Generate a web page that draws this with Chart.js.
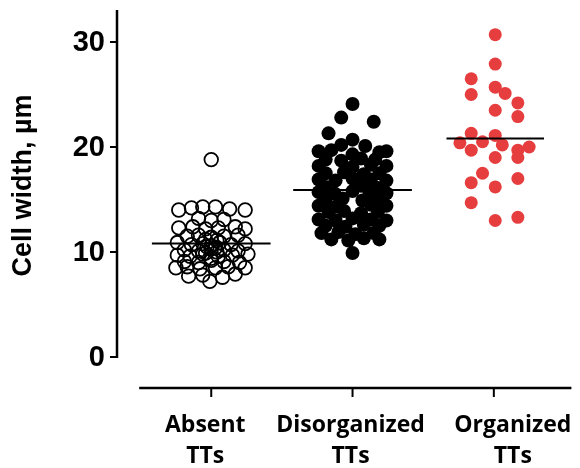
<!DOCTYPE html>
<html lang="en">
<head>
  <meta charset="UTF-8" />
  <title>Cell width</title>
  <script src="https://cdn.jsdelivr.net/npm/chart.js"></script>
  <style>
    html, body {
      margin: 0;
      padding: 0;
      background: #fff;
    }
    #chart {
      display: block;
    }
  </style>
</head>
<body>
  <canvas id="chart" width="580" height="468"></canvas>

  <script>
    // data
    const categories = [['Absent', 'TTs'], ['Disorganized', 'TTs'], ['Organized', 'TTs']];
    const yTicks = [0, 10, 20, 30];
    const yTitle = 'Cell width, µm';
    const means = [10.8, 15.9, 20.8];

    // horizontal spread of each dot from its group centre (category units), as seen in the plot
    const absentValues = [
      14.0, 14.2, 14.3, 14.3, 14.1, 14.0,
      13.2, 13.0, 13.1,
      12.3, 12.4, 12.2, 12.3, 12.4, 12.2,
      11.5, 11.6, 11.4, 11.5, 11.6, 11.2, 11.1,
      10.9, 10.7, 10.8, 10.6, 10.9, 10.7, 10.8, 10.5, 10.4,
      10.2, 10.1, 10.3, 10.2, 10.1, 9.9, 10.0,
      9.7, 9.6, 9.8, 9.6, 9.7, 9.8, 9.4,
      9.1, 9.0, 9.2, 9.1, 9.0,
      8.5, 8.6, 8.4, 8.5, 8.6, 8.5,
      7.7, 7.8, 7.6, 7.9,
      7.2, 18.8
    ];
    const absentSpread = [
      -0.23, -0.14, -0.06, 0.03, 0.13, 0.24,
      -0.09, 0, 0.09,
      -0.23, -0.13, -0.04, 0.05, 0.17, 0.24,
      -0.17, -0.09, 0, 0.09, 0.19, -0.04, 0.04,
      -0.24, -0.14, -0.06, 0, 0.06, 0.14, 0.24, -0.03, 0.03,
      -0.19, -0.09, 0, 0.09, 0.19, -0.04, 0.04,
      -0.24, -0.15, -0.06, 0.05, 0.15, 0.26, 0,
      -0.19, -0.09, 0, 0.09, 0.2,
      -0.25, -0.17, -0.08, 0.03, 0.12, 0.24,
      -0.16, -0.06, 0.08, 0.17,
      -0.01, 0
    ];

    const disorgValues = [
      24.1, 22.8, 22.4, 21.3, 20.7, 20.2, 20.1,
      19.6, 19.7, 19.5, 19.6, 19.3,
      18.8, 18.7, 18.9, 18.8,
      18.2, 18.1, 18.3, 18.2,
      17.5, 17.6, 17.4, 17.5,
      16.9, 16.8, 17.0, 16.9, 16.8,
      16.2, 16.3, 16.1,
      15.7, 15.6, 15.8, 15.7, 15.6,
      15.0, 15.1, 14.9, 15.0,
      14.4, 14.3, 14.5, 14.4,
      13.8, 13.9, 13.7, 13.8,
      13.1, 13.0, 13.2, 13.1, 13.0,
      12.5, 12.4, 12.6, 12.5,
      11.8, 11.9, 11.7, 11.8,
      11.2, 11.1, 11.3, 11.2,
      9.9
    ];
    const disorgSpread = [
      0, -0.08, 0.15, -0.17, 0, -0.08, 0.09,
      -0.24, -0.15, 0.19, 0.24, 0,
      -0.19, -0.08, 0.06, 0.16,
      -0.24, 0, 0.13, 0.24,
      -0.19, -0.06, 0.08, 0.19,
      -0.24, -0.12, 0, 0.13, 0.24,
      -0.19, 0.06, 0.18,
      -0.24, -0.13, 0, 0.12, 0.24,
      -0.19, -0.07, 0.07, 0.19,
      -0.24, -0.12, 0.13, 0.24,
      -0.17, -0.06, 0.06, 0.18,
      -0.24, -0.12, 0, 0.13, 0.24,
      -0.19, -0.05, 0.08, 0.19,
      -0.22, -0.1, 0.02, 0.15,
      -0.15, -0.03, 0.08, 0.19,
      0
    ];

    const orgValues = [
      30.7, 27.9, 26.5, 25.0, 25.7, 25.1, 24.2, 23.5, 22.9,
      21.3, 21.1, 20.4, 20.5, 19.7, 20.2, 19.7, 20.0, 19.0, 19.0,
      17.5, 16.6, 16.2, 17.0, 14.7, 13.0, 13.3
    ];
    const orgSpread = [
      0.01, 0.01, -0.16, -0.16, 0.01, 0.08, 0.17, 0.01, 0.17,
      -0.16, 0.01, -0.24, -0.08, -0.16, 0.06, 0.17, 0.25, 0.01, 0.17,
      -0.08, -0.16, 0.01, 0.17, -0.16, 0.01, 0.17
    ];

    function toPoints(group, values, spread) {
      return values.map((v, i) => ({ x: group + spread[i], y: v }));
    }

    const meanHalfWidth = [0.42, 0.42, 0.345];
    const meanShift = [0, 0, 0.01];
    const labelShift = [-6, -2, 19];

    const meanSets = means.map((m, i) => ({
      type: 'line',
      data: [
        { x: i + meanShift[i] - meanHalfWidth[i], y: m },
        { x: i + meanShift[i] + meanHalfWidth[i], y: m }
      ],
      borderColor: '#000',
      borderWidth: 2,
      pointRadius: 0,
      order: 0
    }));

    // axes are drawn by hand so the y line can stop at 0 and the x line stays detached
    const prismAxes = {
      id: 'prismAxes',
      afterDraw(chart) {
        const c = chart.ctx;
        const xs = chart.scales.x;
        const ys = chart.scales.y;
        const area = chart.chartArea;
        const axisX = area.left;
        c.save();
        c.strokeStyle = '#000';
        c.fillStyle = '#000';

        // y axis
        c.lineWidth = 2.5;
        c.beginPath();
        c.moveTo(axisX, ys.getPixelForValue(0) + 1);
        c.lineTo(axisX, area.top);
        c.stroke();
        c.font = 'bold 29px "Liberation Sans", Arial, sans-serif';
        c.textAlign = 'right';
        c.textBaseline = 'middle';
        yTicks.forEach(t => {
          const py = ys.getPixelForValue(t);
          c.lineWidth = 2;
          c.beginPath();
          c.moveTo(axisX - 7, py);
          c.lineTo(axisX, py);
          c.stroke();
          c.fillText(String(t), axisX - 12, py + 1);
        });

        // y title
        c.save();
        c.translate(24, (ys.getPixelForValue(0) + area.top) / 2 + 2);
        c.rotate(-Math.PI / 2);
        c.textAlign = 'center';
        c.textBaseline = 'middle';
        c.font = 'bold 27px "Liberation Sans", Arial, sans-serif';
        c.fillText(yTitle, 0, 0);
        c.restore();

        // x axis
        const by = area.bottom + 1;
        c.lineWidth = 2.5;
        c.beginPath();
        c.moveTo(xs.getPixelForValue(-0.51), by);
        c.lineTo(area.right, by);
        c.stroke();
        c.font = 'bold 23px "Open Sans", sans-serif';
        c.textAlign = 'center';
        c.textBaseline = 'alphabetic';
        categories.forEach((lines, i) => {
          const px = xs.getPixelForValue(i);
          c.lineWidth = 2;
          c.beginPath();
          c.moveTo(px, by);
          c.lineTo(px, by + 9);
          c.stroke();
          lines.forEach((ln, j) => {
            c.fillText(ln, px + labelShift[i], by + 44 + j * 31);
          });
        });
        c.restore();
      }
    };

    new Chart(document.getElementById('chart'), {
      type: 'scatter',
      data: {
        datasets: [
          ...meanSets,
          {
            label: 'Absent TTs',
            data: toPoints(0, absentValues, absentSpread),
            pointRadius: 6.8,
            pointBackgroundColor: 'rgba(0,0,0,0)',
            pointBorderColor: '#000',
            pointBorderWidth: 1.8,
            order: 1
          },
          {
            label: 'Disorganized TTs',
            data: toPoints(1, disorgValues, disorgSpread),
            pointRadius: 7,
            pointBackgroundColor: '#000',
            pointBorderColor: '#000',
            pointBorderWidth: 0,
            order: 1
          },
          {
            label: 'Organized TTs',
            data: toPoints(2, orgValues, orgSpread),
            pointRadius: 6.5,
            pointBackgroundColor: '#e63e3e',
            pointBorderColor: '#e63e3e',
            pointBorderWidth: 0,
            order: 1
          }
        ]
      },
      options: {
        responsive: false,
        animation: false,
        layout: {
          padding: { left: 117, right: 0, top: 10, bottom: 81 }
        },
        plugins: {
          legend: { display: false },
          tooltip: { enabled: false }
        },
        scales: {
          x: {
            type: 'linear',
            display: false,
            min: -0.667,
            max: 2.549
          },
          y: {
            type: 'linear',
            display: false,
            min: -2.857,
            max: 33.05
          }
        }
      },
      plugins: [prismAxes]
    });
  </script>
</body>
</html>
